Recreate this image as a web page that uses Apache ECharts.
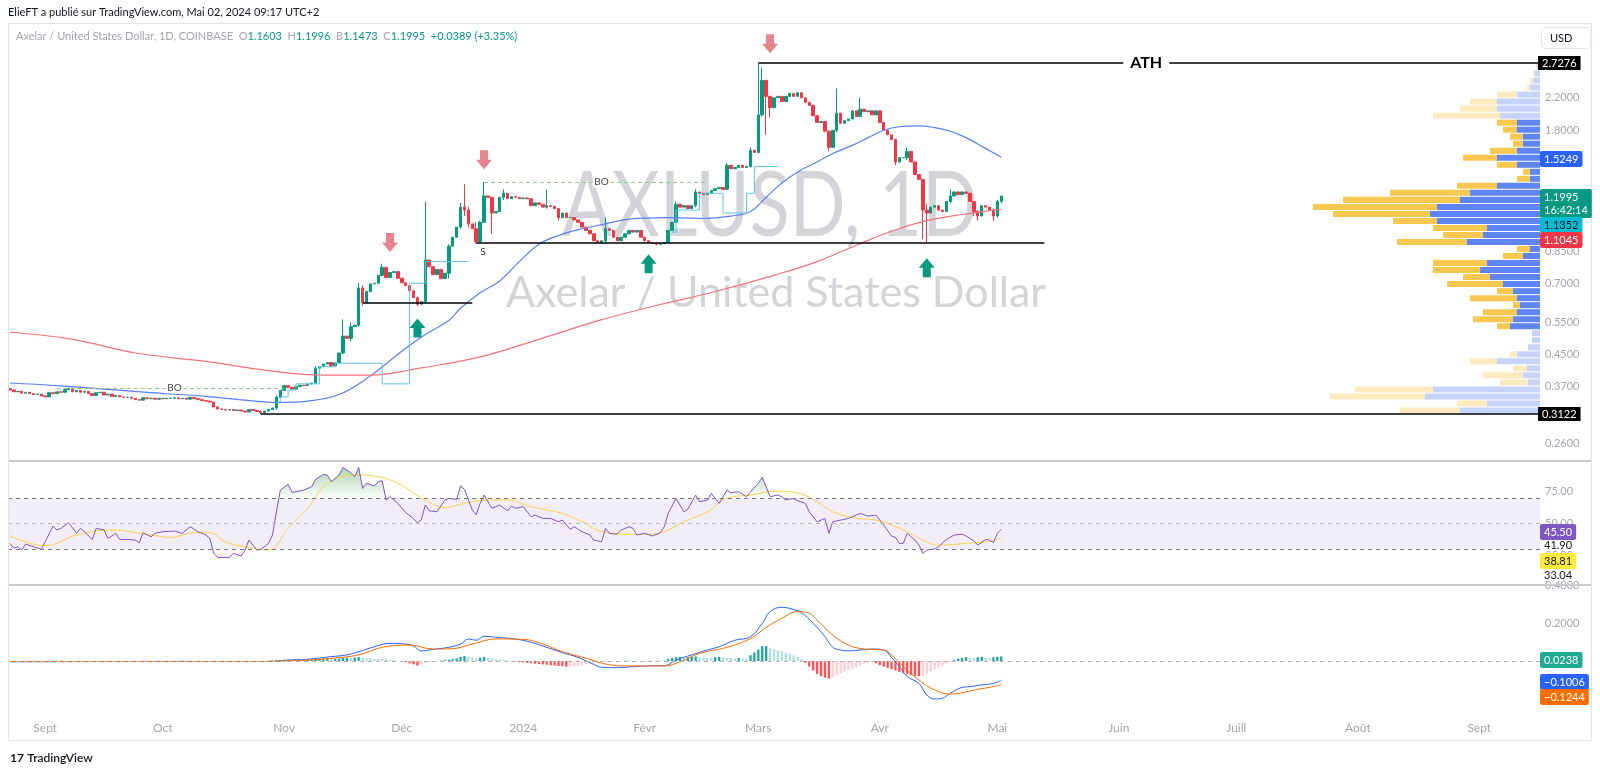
<!DOCTYPE html>
<html>
<head>
<meta charset="utf-8">
<title>AXLUSD 1D</title>
<script src="https://cdn.jsdelivr.net/npm/echarts@6/dist/echarts.min.js"></script>
<style>
  html, body { margin: 0; padding: 0; background: #fff; }
  #chart { width: 1600px; height: 772px; }
</style>
</head>
<body>
<div id="chart"></div>
<script>
// axe des dates : du 23 août 2023 au 16 sept 2024
var firstDay = [2023, 7, 23];
var dayCount = 391;
var monthNames = ['Janv', 'Févr', 'Mars', 'Avr', 'Mai', 'Juin', 'Juill', 'Août', 'Sept', 'Oct', 'Nov', 'Déc'];

// clôtures journalières (23 août 2023 -> 2 mai 2024)
var closes = [
  0.362,0.358,0.359,0.355,0.357,0.354,0.352,0.353,0.349,0.347,
  0.356,0.354,0.358,0.357,0.363,0.366,0.358,0.361,0.357,0.359,
  0.354,0.350,0.356,0.357,0.351,0.353,0.348,0.350,0.347,0.346,
  0.346,0.344,0.341,0.340,0.345,0.343,0.344,0.342,0.344,0.343,
  0.344,0.344,0.345,0.343,0.344,0.342,0.346,0.343,0.341,0.339,
  0.338,0.336,0.326,0.322,0.321,0.320,0.321,0.319,0.320,0.318,
  0.316,0.321,0.319,0.317,0.315,0.318,0.321,0.324,0.346,0.361,
  0.372,0.368,0.364,0.370,0.373,0.372,0.376,0.378,0.414,0.418,
  0.425,0.429,0.420,0.428,0.455,0.505,0.498,0.535,0.540,0.680,
  0.622,0.665,0.697,0.700,0.735,0.772,0.725,0.748,0.752,0.722,
  0.702,0.690,0.668,0.640,0.615,0.625,0.808,0.775,0.738,0.762,
  0.720,0.745,0.880,0.930,0.990,1.120,1.100,1.010,0.980,0.905,
  1.020,1.200,1.190,1.080,1.090,1.190,1.220,1.180,1.195,1.190,
  1.180,1.185,1.180,1.130,1.150,1.140,1.120,1.130,1.125,1.110,
  1.050,1.080,1.050,1.050,1.035,1.020,0.990,0.970,0.950,0.910,
  0.900,0.910,0.980,0.970,0.930,0.910,0.930,0.950,0.970,0.960,
  0.970,0.930,0.910,0.900,0.895,0.890,0.893,0.900,0.970,1.020,
  1.140,1.120,1.130,1.110,1.130,1.230,1.220,1.210,1.220,1.240,
  1.255,1.265,1.250,1.450,1.420,1.430,1.450,1.430,1.440,1.590,
  1.570,1.980,2.450,2.220,2.070,2.200,2.220,2.150,2.220,2.260,
  2.220,2.270,2.200,2.140,2.100,1.970,1.890,1.900,1.790,1.620,
  1.800,2.000,1.880,1.910,1.930,2.030,1.960,2.050,2.020,2.030,
  1.980,2.030,1.890,1.800,1.750,1.700,1.480,1.520,1.520,1.580,
  1.480,1.370,1.330,1.100,1.080,1.120,1.130,1.100,1.090,1.160,
  1.200,1.230,1.210,1.230,1.220,1.160,1.090,1.060,1.130,1.120,
  1.100,1.060,1.1603,1.1995
];
var firstOpen = 0.365;

// mèches visibles : index -> [bas, haut]
var wicks = {
  64: [0.3122, 0.319], 68: [0.320, 0.350], 78: [0.376, 0.420], 85: [0.452, 0.56],
  87: [0.49, 0.55], 89: [0.535, 0.70], 90: [0.61, 0.69], 95: [0.73, 0.79],
  104: [0.608, 0.645], 106: [0.615, 1.16], 112: [0.72, 0.89], 115: [0.98, 1.15],
  116: [1.06, 1.29], 117: [0.99, 1.12], 119: [0.895, 1.02], 120: [0.90, 1.03],
  121: [1.02, 1.31], 123: [0.95, 1.19], 126: [1.17, 1.25], 137: [1.11, 1.25],
  140: [1.03, 1.11], 152: [0.895, 1.05], 165: [0.885, 0.90], 170: [1.02, 1.16],
  175: [1.12, 1.25], 183: [1.25, 1.47], 189: [1.43, 1.62], 191: [1.56, 2.7276],
  192: [1.96, 2.65], 193: [1.75, 2.46], 194: [1.95, 2.23], 209: [1.58, 1.80],
  211: [1.78, 2.33], 217: [1.95, 2.20], 226: [1.45, 1.70], 229: [1.50, 1.62],
  233: [0.92, 1.33], 234: [0.897, 1.14], 240: [1.15, 1.25], 246: [1.06, 1.16],
  247: [1.03, 1.10], 251: [1.03, 1.11], 252: [1.05, 1.17], 253: [1.1473, 1.1996]
};

// moyennes mobiles [index, valeur]
var blueMa = [[0,0.378],[12,0.372],[24,0.364],[36,0.356],[50,0.348],[60,0.340],[68,0.335],[76,0.338],
  [84,0.352],[92,0.395],[100,0.46],[106,0.51],[112,0.556],[115,0.60],[120,0.66],[125,0.71],[130,0.80],
  [135,0.89],[140,0.94],[146,0.98],[152,1.01],[158,1.04],[167,1.05],[176,1.045],[184,1.06],[189,1.09],
  [193,1.19],[197,1.30],[202,1.41],[206,1.48],[210,1.56],[215,1.64],[219,1.72],[223,1.80],[227,1.84],
  [232,1.85],[236,1.83],[240,1.79],[244,1.72],[249,1.61],[253,1.5249]];
var redMa = [[0,0.518],[16,0.495],[32,0.455],[50,0.432],[66,0.408],[80,0.397],[92,0.397],[105,0.415],
  [120,0.444],[135,0.495],[150,0.555],[165,0.61],[180,0.665],[195,0.735],[206,0.80],[216,0.885],
  [225,0.965],[234,1.03],[243,1.07],[253,1.1045]];

// ligne en escalier (cyan)
var stepA = [[68,0.336],[69,0.347],[71,0.362],[73,0.376],[79,0.418],[83,0.427],[95,0.376],[102,0.70],[106,0.80],[117,0.80]];
var stepB = [[169,0.96],[170,1.10],[176,1.22],[182,1.08],[188,1.22],[190,1.44],[196,1.44]];

// RSI et sa moyenne
var rsi = [[0,34.4],[1,30.5],[2,31.8],[3,29.2],[4,33.9],[6,31.8],[8,29.7],[11,48],[12,44.9],[13,46.2],
  [15,50.6],[17,42.3],[18,46.2],[19,43.6],[21,37.5],[22,46.2],[24,44.9],[25,38.3],[27,42.3],[28,37.5],
  [30,37.5],[32,37],[33,34.9],[34,42.8],[36,39.6],[37,42.3],[39,43.6],[42,44.1],[44,42.3],[46,47.5],
  [48,43.6],[50,41],[51,38.3],[52,26.6],[53,23.4],[55,23.4],[56,23.4],[57,26.6],[59,24.5],[60,29.2],
  [61,37],[62,33.1],[63,29.2],[64,29.7],[66,34.4],[67,41],[68,59.2],[69,76.2],[71,80.7],[72,74.4],
  [75,76.2],[77,78.8],[78,84.6],[80,88.5],[81,88],[82,82.8],[84,88],[85,94],[87,89.8],[88,86.7],
  [89,94],[90,77.5],[91,81.5],[93,79.4],[94,82.8],[95,83.5],[96,68.4],[97,71],[99,65.8],[101,58.5],
  [103,54],[104,50.6],[105,53],[106,64.5],[107,60],[109,59.2],[111,68.4],[112,69.7],[114,68.9],[115,79.4],
  [116,76.8],[118,60.5],[119,57],[120,65.8],[121,72.3],[123,61.9],[125,64.5],[127,59.8],[128,63.7],[129,61.9],
  [131,63.2],[133,55.3],[134,56.6],[136,54],[138,54],[140,51.4],[141,52.7],[143,45.4],[144,47.5],[146,43.6],
  [148,41],[149,37],[151,35.7],[152,46.2],[153,42.3],[155,41.7],[156,44.9],[158,47.5],[159,46.2],[160,41],
  [162,42.3],[164,40.2],[166,42.8],[167,47.5],[168,58],[170,69.7],[172,59.2],[173,61.1],[175,72.3],[176,67.1],
  [178,68.4],[179,73.6],[181,65.8],[183,76.2],[184,74.1],[186,74.9],[188,71],[189,74.9],[191,81.5],[192,86.2],
  [193,78.8],[194,71],[196,72.3],[197,71],[198,68.4],[200,69.7],[201,67.9],[203,65.8],[204,59.2],[206,51.4],
  [208,54],[209,42.3],[210,51.4],[212,52.7],[214,54],[216,56.6],[217,57.9],[219,55.8],[221,56.6],[223,48.8],
  [225,40.2],[226,39.1],[227,34.4],[228,34.4],[229,42.3],[231,37],[232,33.1],[233,26.6],[234,29.2],[236,30],
  [237,31.8],[239,37.5],[241,41],[243,41.7],[244,40.2],[246,36.5],[247,33.1],[249,37.5],[250,37],[251,34.9],
  [252,42.3],[253,45.5]];
var rsiMa = [[0,40.2],[9,32.6],[17,41],[26,44.9],[36,41],[41,39.1],[47,42.8],[51,42.8],[55,35.7],[60,31.8],
  [66,29.2],[71,46.2],[76,61.9],[81,81.5],[89,88],[94,86.7],[99,81.5],[106,68.4],[111,62.6],[116,65.8],
  [122,68.4],[127,68.4],[133,63.2],[141,57.9],[146,51.4],[151,43.6],[157,41.7],[162,41.5],[167,43.6],[172,51.4],
  [178,59.2],[183,69.7],[189,72.3],[196,75.4],[202,73.1],[206,67.1],[210,59.2],[216,54],[221,52.7],[228,44.9],
  [233,37],[237,33.1],[244,34.4],[251,36.5],[253,38.81]];

// MACD, signal, histogramme
var macd = [[0,-0.004],[20,-0.003],[40,-0.002],[60,-0.003],[68,-0.002],[71,0.005],[76,0.009],[82,0.023],
  [86,0.032],[89,0.049],[93,0.075],[97,0.093],[101,0.089],[103,0.079],[105,0.053],[108,0.061],[112,0.072],
  [115,0.089],[117,0.116],[119,0.109],[121,0.130],[125,0.123],[128,0.118],[132,0.104],[136,0.079],[141,0.044],
  [145,0.019],[149,-0.018],[151,-0.033],[155,-0.035],[159,-0.030],[163,-0.026],[167,-0.025],[170,0.005],
  [174,0.032],[178,0.058],[181,0.075],[185,0.109],[189,0.128],[192,0.198],[194,0.26],[197,0.283],[199,0.277],
  [202,0.254],[205,0.198],[208,0.128],[210,0.072],[212,0.058],[214,0.053],[217,0.058],[220,0.063],[223,0.058],
  [225,0.019],[227,-0.030],[229,-0.082],[232,-0.118],[234,-0.179],[236,-0.200],[238,-0.196],[240,-0.170],
  [243,-0.139],[245,-0.135],[248,-0.126],[251,-0.118],[253,-0.1006]];
var signal = [[0,-0.003],[30,-0.003],[60,-0.003],[70,0.0],[76,0.005],[82,0.014],[89,0.032],[95,0.072],
  [102,0.084],[108,0.063],[113,0.065],[118,0.089],[124,0.116],[131,0.114],[136,0.089],[141,0.049],[148,0.009],
  [152,-0.016],[157,-0.026],[167,-0.026],[171,-0.004],[176,0.040],[183,0.072],[189,0.118],[193,0.177],
  [197,0.225],[201,0.26],[204,0.251],[206,0.216],[210,0.137],[214,0.084],[218,0.063],[223,0.058],[225,0.032],
  [228,-0.030],[232,-0.100],[236,-0.153],[240,-0.174],[243,-0.167],[247,-0.149],[251,-0.135],[253,-0.1244]];
var hist = [
  -0.002,-0.002,-0.001,-0.001,0,0.001,0.001,0.001,0,0,
  0.001,0.002,0.002,0.002,0.001,0.001,0,0,-0.001,-0.001,
  -0.001,0,0,0,-0.001,-0.001,-0.001,0,0,0,
  -0.001,-0.001,0,0,0,0.001,0,0,0,0,
  0,0,0,0.001,0.001,0.001,0.001,0,0,0,
  -0.001,-0.002,-0.003,-0.003,-0.003,-0.002,-0.002,-0.001,-0.001,-0.001,
  0,0,0,-0.001,-0.001,0,0.001,0.002,0.004,0.005,
  0.006,0.007,0.006,0.006,0.005,0.005,0.006,0.008,0.010,0.011,
  0.012,0.012,0.011,0.011,0.013,0.016,0.017,0.016,0.018,0.020,
  0.019,0.016,0.014,0.012,0.011,0.010,0.008,0.006,0.004,0.002,
  -0.002,-0.006,-0.012,-0.018,-0.024,-0.016,-0.010,-0.008,-0.005,-0.002,
  0.002,0.005,0.007,0.010,0.014,0.022,0.026,0.024,0.020,0.014,
  0.018,0.022,0.016,0.012,0.010,0.008,0.006,0.003,-0.002,-0.004,
  -0.006,-0.008,-0.010,-0.012,-0.014,-0.016,-0.018,-0.020,-0.022,-0.024,
  -0.026,-0.028,-0.030,-0.029,-0.028,-0.026,-0.022,-0.018,-0.014,-0.010,
  -0.008,-0.006,-0.004,-0.003,-0.002,-0.002,-0.001,0.001,0.002,0.001,
  0,-0.001,-0.002,-0.001,0.001,-0.002,0.001,0.002,0.010,0.016,
  0.020,0.022,0.019,0.020,0.022,0.024,0.021,0.018,0.017,0.016,
  0.020,0.022,0.020,0.017,0.016,0.014,0.016,0.015,0.013,0.030,
  0.045,0.060,0.078,0.079,0.070,0.062,0.056,0.050,0.044,0.038,
  0.030,0.022,0.010,-0.010,-0.030,-0.050,-0.068,-0.080,-0.088,-0.092,
  -0.085,-0.076,-0.066,-0.056,-0.048,-0.040,-0.032,-0.024,-0.016,-0.010,
  -0.006,-0.012,-0.022,-0.030,-0.036,-0.042,-0.050,-0.058,-0.064,-0.070,
  -0.074,-0.078,-0.080,-0.079,-0.066,-0.054,-0.044,-0.034,-0.024,-0.014,
  -0.006,0.004,0.012,0.016,0.020,0.018,0.016,0.020,0.022,0.018,
  0.016,0.020,0.022,0.0238
];

// profil de volume (50 rangées de 0.3122 à 2.7276), longueurs achat / vente
var vpUp = [80,53,115,107,12,17,13,43,23,12, 8,8,30,27,23,20,23,27,37,50,
  60,53,17,10,73,57,53,103,110,103, 80,70,43,10,10,23,43,23,17,17, 23,23,40,43,43,23,10,7,5,3];
var vpDown = [60,30,95,78,28,40,14,27,7,0, 0,0,13,40,34,7,47,16,56,27,
  47,54,20,13,70,40,54,44,97,124, 117,80,40,13,7,20,34,27,10,13, 14,20,67,37,27,20,3,3,2,1];
var vpRange = [0.3122, 2.7276];
var vpValueArea = [12, 41];

// graduations
var priceTicks = [2.2, 1.8, 0.85, 0.7, 0.55, 0.45, 0.37, 0.26];
var rsiTicks = [75, 50, 25];
var macdTicks = [0.4, 0.2];

// ---------------------------------------------------------------
var days = [];
var t0 = Date.UTC(firstDay[0], firstDay[1], firstDay[2]);
for (var i = 0; i < dayCount; i++) {
  days.push(new Date(t0 + i * 86400000).toISOString().slice(0, 10));
}
function pts(arr) {
  return arr.map(function (p) { return [days[p[0]], p[1]]; });
}

var candles = closes.map(function (c, i) {
  var o = i ? closes[i - 1] : firstOpen;
  var w = wicks[i];
  return [o, c, w ? w[0] : Math.min(o, c), w ? w[1] : Math.max(o, c)];
});

var histData = hist.map(function (v, i) {
  var prev = i ? hist[i - 1] : 0;
  var col = v >= 0 ? (v >= prev ? '#26a69a' : '#b2dfdb') : (v <= prev ? '#ff5252' : '#ffcdd2');
  return { value: v, itemStyle: { color: col } };
});

var vpStep = Math.log(vpRange[1] / vpRange[0]) / vpUp.length;
var vpData = vpUp.map(function (u, i) {
  return [vpRange[0] * Math.exp(i * vpStep), vpRange[0] * Math.exp((i + 1) * vpStep), u, vpDown[i],
    (i >= vpValueArea[0] && i <= vpValueArea[1]) ? 1 : 0];
});

var FONT = 'Lato, Roboto, sans-serif';
var NOLINE = { color: 'rgba(0,0,0,0)', width: 0 };
var downArrow = 'path://M4,0 L12,0 L12,9 L16,9 L8,18 L0,9 L4,9 Z';
var upArrow = 'path://M8,0 L16,9 L12,9 L12,18 L4,18 L4,9 L0,9 Z';

function hline(a, b, y, extra) {
  var item = [{ coord: [days[a], y] }, { coord: [days[b], y] }];
  if (extra) { item[0] = Object.assign(item[0], extra); }
  return item;
}
function ticks(list, digits) {
  return list.map(function (v) {
    return { yAxis: v, lineStyle: NOLINE, label: { formatter: v.toFixed(digits) } };
  });
}
function onLine(idx, y, text, size, weight, color, w, h) {
  return { coord: [days[idx], y], symbol: 'rect', symbolSize: [w, h], itemStyle: { color: '#fff' },
    label: { show: true, position: 'inside', formatter: text, color: color, fontSize: size,
      fontWeight: weight, fontFamily: FONT } };
}
function tag(y, text, bg, fg) {
  return {
    type: 'text', x: 1540, y: y, z: 100,
    style: { text: text, fill: fg, backgroundColor: bg, padding: [2, 4, 1, 4], borderRadius: 2,
      font: '11px ' + FONT, lineHeight: 13 }
  };
}

var chart = echarts.init(document.getElementById('chart'));
chart.setOption({
  animation: false,
  backgroundColor: '#ffffff',
  grid: [
    { left: 8, top: 23, width: 1532, height: 438 },
    { left: 8, top: 461, width: 1532, height: 124 },
    { left: 8, top: 585, width: 1532, height: 128 },
    { left: 1283, top: 23, width: 257, height: 438 }
  ],
  xAxis: [
    { type: 'category', gridIndex: 0, data: days, show: false },
    { type: 'category', gridIndex: 1, data: days, show: false },
    { type: 'category', gridIndex: 2, data: days,
      axisLine: { show: false }, axisTick: { show: false }, splitLine: { show: false },
      axisLabel: {
        color: '#a3a6af', fontSize: 12, fontFamily: FONT, margin: 9,
        interval: function (idx, val) { return val.slice(8) === '01'; },
        formatter: function (val) {
          var m = +val.slice(5, 7);
          return m === 1 ? val.slice(0, 4) : monthNames[m - 1];
        }
      } },
    { type: 'value', gridIndex: 3, min: 0, max: 257, inverse: true, show: false }
  ],
  yAxis: [
    { type: 'log', gridIndex: 0, min: 0.2335, max: 3.492, show: false },
    { type: 'value', gridIndex: 1, min: 1.8, max: 99, show: false },
    { type: 'value', gridIndex: 2, min: -0.2737, max: 0.4, show: false },
    { type: 'log', gridIndex: 3, min: 0.2335, max: 3.492, show: false }
  ],
  series: [
    {
      type: 'custom', name: 'profil', xAxisIndex: 3, yAxisIndex: 3, data: vpData, silent: true, z: 1,
      encode: { x: [2, 3], y: [0, 1] },
      renderItem: function (params, api) {
        var lo = api.value(0), hi = api.value(1), up = api.value(2), dn = api.value(3), va = api.value(4);
        var base = api.coord([0, lo]);
        var top = api.coord([0, hi])[1];
        var xUp = api.coord([up, lo])[0];
        var xAll = api.coord([up + dn, lo])[0];
        var h = Math.max(base[1] - top - 1, 1);
        return { type: 'group', children: [
          { type: 'rect', shape: { x: xUp, y: top + 0.5, width: base[0] - xUp, height: h },
            style: { fill: va ? '#5f86f8' : '#c6d3fc' } },
          { type: 'rect', shape: { x: xAll, y: top + 0.5, width: xUp - xAll, height: h },
            style: { fill: va ? '#f9c850' : '#fdeabf' } }
        ] };
      }
    },
    {
      type: 'candlestick', name: 'AXLUSD', xAxisIndex: 0, yAxisIndex: 0, data: candles, barWidth: 3,
      itemStyle: { color: '#089981', color0: '#f23645', borderColor: '#089981', borderColor0: '#f23645', borderWidth: 1 },
      markLine: {
        silent: true, symbol: 'none', animation: false,
        lineStyle: { color: '#000', width: 1.5, type: 'solid' },
        label: { show: false },
        data: [
          hline(191, 390, 2.7276, { label: { show: true, position: 'end', formatter: '2.7276',
            color: '#fff', backgroundColor: '#000', padding: [2, 4, 1, 4], fontSize: 11, fontFamily: FONT, distance: 0 } }),
          hline(64, 390, 0.3122, { label: { show: true, position: 'end', formatter: '0.3122',
            color: '#fff', backgroundColor: '#000', padding: [2, 4, 1, 4], fontSize: 11, fontFamily: FONT, distance: 0 } }),
          hline(119, 264, 0.897, { label: { show: true, position: 'insideStartBottom', formatter: 'S',
            color: '#333', fontSize: 10, fontFamily: FONT, distance: 4 } }),
          hline(90, 118, 0.62),
          hline(12, 70, 0.367, { lineStyle: { color: '#93c990', width: 1, type: [4, 3] } }),
          hline(121, 178, 1.31, { lineStyle: { color: '#93c990', width: 1, type: [4, 3] } })
        ]
      },
      markPoint: {
        silent: true, animation: false, label: { show: false }, symbolSize: [16, 19],
        data: [
          { coord: [days[97], 0.90], symbol: downArrow, itemStyle: { color: '#e6848b' } },
          { coord: [days[121], 1.50], symbol: downArrow, itemStyle: { color: '#e6848b' } },
          { coord: [days[194], 3.07], symbol: downArrow, itemStyle: { color: '#e6848b' } },
          { coord: [days[104], 0.531], symbol: upArrow, itemStyle: { color: '#089981' } },
          { coord: [days[163], 0.79], symbol: upArrow, itemStyle: { color: '#089981' } },
          { coord: [days[234], 0.77], symbol: upArrow, itemStyle: { color: '#089981' } },
          onLine(290, 2.7276, 'ATH', 16, 'bold', '#000', 46, 18),
          onLine(42, 0.367, 'BO', 10, 'normal', '#444', 18, 11),
          onLine(151, 1.31, 'BO', 10, 'normal', '#444', 18, 11)
        ]
      }
    },
    {
      type: 'line', name: 'MA bleue', xAxisIndex: 0, yAxisIndex: 0, data: pts(blueMa), smooth: 0.4,
      symbol: 'none', lineStyle: { color: '#5b7ef9', width: 1.2 }, z: 3,
      markLine: {
        silent: true, symbol: 'none', animation: false,
        label: { show: true, position: 'end', color: '#a3a6af', fontSize: 11, fontFamily: FONT, distance: 5 },
        data: ticks(priceTicks, 4)
      }
    },
    {
      type: 'line', name: 'MA rouge', xAxisIndex: 0, yAxisIndex: 0, data: pts(redMa), smooth: 0.4,
      symbol: 'none', lineStyle: { color: '#f2737c', width: 1.2 }, z: 3
    },
    {
      type: 'line', name: 'palier A', xAxisIndex: 0, yAxisIndex: 0, data: pts(stepA), step: 'end',
      symbol: 'none', lineStyle: { color: '#62c3e6', width: 1 }, z: 3
    },
    {
      type: 'line', name: 'palier B', xAxisIndex: 0, yAxisIndex: 0, data: pts(stepB), step: 'end',
      symbol: 'none', lineStyle: { color: '#62c3e6', width: 1 }, z: 3
    },
    // RSI
    {
      type: 'line', name: 'RSI zone haute', xAxisIndex: 1, yAxisIndex: 1, data: pts(rsi), symbol: 'none',
      lineStyle: { width: 0 }, silent: true, z: 1,
      areaStyle: { origin: 70, color: { type: 'linear', x: 0, y: 461, x2: 0, y2: 498, global: true,
        colorStops: [{ offset: 0, color: 'rgba(67,160,71,0.75)' }, { offset: 0.999, color: 'rgba(67,160,71,0.03)' },
          { offset: 1, color: 'rgba(67,160,71,0)' }] } }
    },
    {
      type: 'line', name: 'RSI zone basse', xAxisIndex: 1, yAxisIndex: 1, data: pts(rsi), symbol: 'none',
      lineStyle: { width: 0 }, silent: true, z: 1,
      areaStyle: { origin: 30, color: { type: 'linear', x: 0, y: 549, x2: 0, y2: 585, global: true,
        colorStops: [{ offset: 0, color: 'rgba(242,54,69,0)' }, { offset: 0.001, color: 'rgba(242,54,69,0.05)' },
          { offset: 1, color: 'rgba(242,54,69,0.4)' }] } }
    },
    {
      type: 'line', name: 'RSI', xAxisIndex: 1, yAxisIndex: 1, data: pts(rsi), symbol: 'none',
      lineStyle: { color: '#7e57c2', width: 1 }, z: 4,
      markArea: { silent: true, itemStyle: { color: 'rgba(126,87,194,0.1)' }, data: [[{ yAxis: 30 }, { yAxis: 70 }]] },
      markLine: {
        silent: true, symbol: 'none', animation: false, label: { show: false },
        data: [
          { yAxis: 70, lineStyle: { color: '#787b86', type: [4, 4], width: 1 } },
          { yAxis: 50, lineStyle: { color: '#b8bbc2', type: [4, 4], width: 1 } },
          { yAxis: 30, lineStyle: { color: '#787b86', type: [4, 4], width: 1 } }
        ]
      }
    },
    {
      type: 'line', name: 'RSI MA', xAxisIndex: 1, yAxisIndex: 1, data: pts(rsiMa), smooth: 0.4, symbol: 'none',
      lineStyle: { color: '#f5d547', width: 1 }, z: 3,
      markLine: {
        silent: true, symbol: 'none', animation: false,
        label: { show: true, position: 'end', color: '#a3a6af', fontSize: 11, fontFamily: FONT, distance: 5 },
        data: ticks(rsiTicks, 2)
      }
    },
    // MACD
    {
      type: 'bar', name: 'Histogramme', xAxisIndex: 2, yAxisIndex: 2, data: histData, barWidth: '60%',
      markLine: {
        silent: true, symbol: 'none', animation: false, label: { show: false },
        data: [{ yAxis: 0, lineStyle: { color: '#b2b5be', type: [4, 4], width: 1 } }]
      }
    },
    {
      type: 'line', name: 'MACD', xAxisIndex: 2, yAxisIndex: 2, data: pts(macd), smooth: 0.4, symbol: 'none',
      lineStyle: { color: '#2962ff', width: 1 }, z: 4,
      markLine: {
        silent: true, symbol: 'none', animation: false,
        label: { show: true, position: 'end', color: '#a3a6af', fontSize: 11, fontFamily: FONT, distance: 5 },
        data: ticks(macdTicks, 4)
      }
    },
    {
      type: 'line', name: 'Signal', xAxisIndex: 2, yAxisIndex: 2, data: pts(signal), smooth: 0.4, symbol: 'none',
      lineStyle: { color: '#ff6d00', width: 1 }, z: 4
    }
  ],
  graphic: [
    { type: 'rect', z: 50, shape: { x: 8.5, y: 23.5, width: 1583, height: 717 },
      style: { fill: 'none', stroke: '#e0e3eb', lineWidth: 1 } },
    { type: 'rect', z: 50, shape: { x: 9, y: 460, width: 1582, height: 2 }, style: { fill: '#c9cbd1' } },
    { type: 'rect', z: 50, shape: { x: 9, y: 584, width: 1582, height: 2 }, style: { fill: '#c9cbd1' } },
    { type: 'text', x: 8, y: 12, z: 50,
      style: { text: 'ElieFT a publié sur TradingView.com, Mai 02, 2024 09:17 UTC+2', fill: '#131722',
        font: '11px ' + FONT, verticalAlign: 'middle' } },
    { type: 'text', x: 16, y: 36, z: 50,
      style: {
        text: '{g|Axelar / United States Dollar, 1D, COINBASE}  {g|O}{v|1.1603}  {g|H}{v|1.1996}  {g|B}{v|1.1473}  {g|C}{v|1.1995}  {v|+0.0389 (+3.35%)}',
        font: '11px ' + FONT, verticalAlign: 'middle',
        rich: { g: { fill: '#a3a6af', font: '11px ' + FONT }, v: { fill: '#089981', font: '11px ' + FONT } }
      } },
    { type: 'text', x: 770, y: 206, z: 0, silent: true, scaleX: 0.8,
      style: { text: 'AXLUSD, 1D', fill: 'rgba(140,143,152,0.38)', font: '92px ' + FONT, align: 'center', verticalAlign: 'middle' } },
    { type: 'text', x: 776, y: 293, z: 0, silent: true,
      style: { text: 'Axelar / United States Dollar', fill: 'rgba(140,143,152,0.38)', font: '43px ' + FONT, align: 'center', verticalAlign: 'middle' } },
    { type: 'text', x: 1542, y: 28, z: 100,
      style: { text: 'USD', fill: '#131722', font: '11px ' + FONT, padding: [5, 18, 4, 8], borderColor: '#e0e3eb',
        borderWidth: 1, borderRadius: 4, backgroundColor: '#fff' } },
    tag(151, '1.5249', '#2962ff', '#fff'),
    tag(189, '1.1995\n16:42:14', '#089981', '#fff'),
    tag(217, '1.1352', '#00bcd4', '#131722'),
    tag(232, '1.1045', '#f23645', '#fff'),
    tag(524, '45.50', '#7e57c2', '#fff'),
    { type: 'text', x: 1544, y: 545, z: 100, style: { text: '41.90', fill: '#131722', font: '11px ' + FONT, verticalAlign: 'middle' } },
    tag(553, '38.81', '#ffeb3b', '#131722'),
    { type: 'text', x: 1544, y: 575, z: 100, style: { text: '33.04', fill: '#131722', font: '11px ' + FONT, verticalAlign: 'middle' } },
    tag(652, '0.0238', '#22ab94', '#fff'),
    tag(674, '−0.1006', '#2962ff', '#fff'),
    tag(689, '−0.1244', '#ff6d00', '#fff'),
    { type: 'text', x: 10, y: 758, z: 50,
      style: { text: '{l|17} {t|TradingView}', verticalAlign: 'middle',
        rich: { l: { font: 'bold 12px ' + FONT, fill: '#131722' }, t: { font: '600 12px ' + FONT, fill: '#131722' } } } }
  ]
});
</script>
</body>
</html>
